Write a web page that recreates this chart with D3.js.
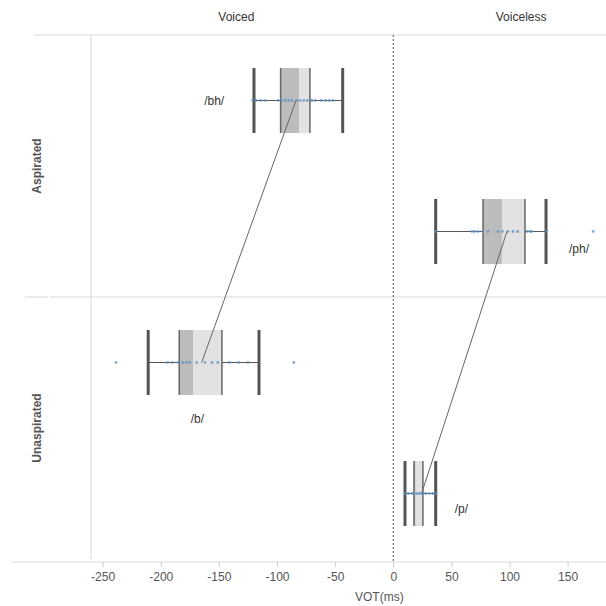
<!DOCTYPE html>
<html>
<head>
<meta charset="utf-8">
<script src="https://cdn.jsdelivr.net/npm/d3@7"></script>
<style>
  body { margin: 0; background: #fff; }
  text { font-family: "Liberation Sans", Arial, sans-serif; }
</style>
</head>
<body>
<div id="chart"></div>
<script>
// Svg defs
let w = 606,
    h = 606;

// Data defs
let phones = ["bh", "ph", "b", "p"];
let aspiration = ["Aspirated", "Aspirated", "Unaspirated", "Unaspirated"];
let voicing = ["Voiced", "Voiceless", "Voiced", "Voiceless"];
let whiskerLow = [-119.8, 36.5, -210.8, 10.1];
let q1 = [-96.9, 77.2, -184.1, 17.8];
let median = [-80.9, 93.5, -172, 19.3];
let q3 = [-71.7, 113.3, -147.4, 25.5];
let whiskerHigh = [-43.5, 131.4, -115.5, 36.5];
let means = [-83.7, 97.8, -164.8, 24.4];
let points = [
  [-121, -118, -114, -110, -99, -96, -93, -90, -87, -83, -80, -77, -74, -70, -67, -62, -58, -55, -52],
  [36.5, 67.7, 70, 72.7, 77, 81.5, 90, 94, 98.5, 103, 107, 115, 117.5, 119, 132, 172],
  [-238.5, -194, -190, -185, -181, -178, -175, -169, -162, -156, -151, -141, -133, -125, -85.5],
  [10, 13, 16, 18, 20, 22, 24, 26, 28, 31, 34, 37]
];
let rows = ["Aspirated", "Unaspirated"];
let cols = ["Voiced", "Voiceless"];
let xTicks = [-250, -200, -150, -100, -50, 0, 50, 100, 150];

// label placement relative to the median, in px
let labelPos = {
  bh: { anchor: "end", dx: -75, dy: 0 },
  ph: { anchor: "start", dx: 67, dy: 17 },
  b:  { anchor: "middle", dx: 4, dy: 56 },
  p:  { anchor: "start", dx: 39, dy: 15 }
};

let boxes = phones.map((p, i) => ({
  name: p, asp: aspiration[i], voi: voicing[i],
  lo: whiskerLow[i], q1: q1[i], med: median[i], q3: q3[i], hi: whiskerHigh[i],
  mean: means[i], pts: points[i]
}));

let plotTop = 35, plotBottom = 559, axisY = 562;

let x = d3.scaleLinear().domain([-260, 183]).range([91, 606]);
let yRow = d3.scaleBand().domain(rows).range([plotTop, plotBottom]);
let yIn = d3.scaleBand().domain(cols).range([0, yRow.bandwidth()]);
let cy = (d) => yRow(d.asp) + yIn(d.voi) + yIn.bandwidth() / 2;
let boxH = 65;

var svg = d3.select("#chart")
  .append("svg")
  .attr("width", w)
  .attr("height", h)
  .attr("viewBox", [0, 0, w, h]);

// Grid / frame lines
let grid = svg.append("g").attr("stroke", "#dcdcdc").attr("stroke-width", 1.2);
grid.append("line").attr("x1", 34).attr("x2", w).attr("y1", plotTop).attr("y2", plotTop);
grid.append("line").attr("x1", x(-260)).attr("x2", x(-260)).attr("y1", plotTop).attr("y2", plotBottom);
grid.append("line").attr("x1", 25).attr("x2", 48)
  .attr("y1", yRow("Unaspirated")).attr("y2", yRow("Unaspirated"));
grid.append("line").attr("x1", 50).attr("x2", w)
  .attr("y1", yRow("Unaspirated")).attr("y2", yRow("Unaspirated"));
grid.append("line").attr("x1", 11).attr("x2", w).attr("y1", axisY).attr("y2", axisY);

// Zero reference line
svg.append("line")
  .attr("x1", x(0)).attr("x2", x(0))
  .attr("y1", plotTop).attr("y2", axisY)
  .attr("stroke", "#555")
  .attr("stroke-dasharray", "2,2");

// Column headers
svg.append("g")
  .selectAll("text")
  .data(cols)
  .join("text")
    .attr("x", (d) => d == "Voiced" ? x(-135) : x(110))
    .attr("y", 21)
    .attr("text-anchor", "middle")
    .attr("font-size", 12)
    .attr("fill", "#333")
    .text((d) => d);

// Row headers
svg.append("g")
  .selectAll("text")
  .data(rows)
  .join("text")
    .attr("transform", (d) => `translate(41,${yRow(d) + yRow.bandwidth() / 2}) rotate(-90)`)
    .attr("text-anchor", "middle")
    .attr("font-size", 12)
    .attr("font-weight", "bold")
    .attr("fill", "#555")
    .text((d) => d);

// Boxes
let bg = svg.append("g")
  .selectAll("g")
  .data(boxes)
  .join("g");

// whiskers
bg.append("line")
  .attr("x1", (d) => x(d.lo)).attr("x2", (d) => x(d.q1))
  .attr("y1", cy).attr("y2", cy)
  .attr("stroke", "#555");
bg.append("line")
  .attr("x1", (d) => x(d.q3)).attr("x2", (d) => x(d.hi))
  .attr("y1", cy).attr("y2", cy)
  .attr("stroke", "#555");

// box halves
bg.append("rect")
  .attr("x", (d) => x(d.q1))
  .attr("width", (d) => x(d.med) - x(d.q1))
  .attr("y", (d) => cy(d) - boxH / 2)
  .attr("height", boxH)
  .attr("fill", "#bcbcbc");
bg.append("rect")
  .attr("x", (d) => x(d.med))
  .attr("width", (d) => x(d.q3) - x(d.med))
  .attr("y", (d) => cy(d) - boxH / 2)
  .attr("height", boxH)
  .attr("fill", "#e2e2e2");

// box edges and whisker caps
["q1", "q3"].forEach((k) => {
  bg.append("line")
    .attr("x1", (d) => x(d[k])).attr("x2", (d) => x(d[k]))
    .attr("y1", (d) => cy(d) - boxH / 2).attr("y2", (d) => cy(d) + boxH / 2)
    .attr("stroke", "#666")
    .attr("stroke-width", 1.5);
});
["lo", "hi"].forEach((k) => {
  bg.append("line")
    .attr("x1", (d) => x(d[k])).attr("x2", (d) => x(d[k]))
    .attr("y1", (d) => cy(d) - boxH / 2).attr("y2", (d) => cy(d) + boxH / 2)
    .attr("stroke", "#555")
    .attr("stroke-width", 3);
});

// Raw points
bg.selectAll("circle")
  .data((d) => d.pts.map((v) => ({ v: v, y: cy(d) })))
  .join("circle")
    .attr("cx", (d) => x(d.v))
    .attr("cy", (d) => d.y)
    .attr("r", 1.4)
    .attr("fill", "#5b8fc4")
    .attr("fill-opacity", 0.75);

// Connecting lines: voiced aspirated -> voiced unaspirated, etc.
let pairs = cols.map((c) => boxes.filter((b) => b.voi == c));
svg.append("g")
  .selectAll("line")
  .data(pairs)
  .join("line")
    .attr("x1", (d) => x(d[0].mean)).attr("y1", (d) => cy(d[0]))
    .attr("x2", (d) => x(d[1].mean)).attr("y2", (d) => cy(d[1]))
    .attr("stroke", "#666")
    .attr("stroke-width", 1);

// Phone labels
svg.append("g")
  .selectAll("text")
  .data(boxes)
  .join("text")
    .attr("x", (d) => x(d.med) + labelPos[d.name].dx)
    .attr("y", (d) => cy(d) + labelPos[d.name].dy)
    .attr("dy", "0.35em")
    .attr("text-anchor", (d) => labelPos[d.name].anchor)
    .attr("font-size", 12)
    .attr("fill", "#333")
    .text((d) => "/" + d.name + "/");

// X axis
let ax = svg.append("g")
  .attr("transform", `translate(0,${axisY})`)
  .call(d3.axisBottom(x).tickValues(xTicks).tickFormat((d) => String(d))
    .tickSize(5).tickPadding(5));
ax.select(".domain").remove();
ax.selectAll(".tick line").attr("stroke", "#ccc");
ax.selectAll(".tick text")
  .attr("fill", "#555")
  .attr("font-size", 12)
  .attr("font-family", "Liberation Sans, Arial, sans-serif");

svg.append("text")
  .attr("x", x(-12))
  .attr("y", 601)
  .attr("text-anchor", "middle")
  .attr("font-size", 12)
  .attr("fill", "#555")
  .text("VOT(ms)");
</script>
</body>
</html>
